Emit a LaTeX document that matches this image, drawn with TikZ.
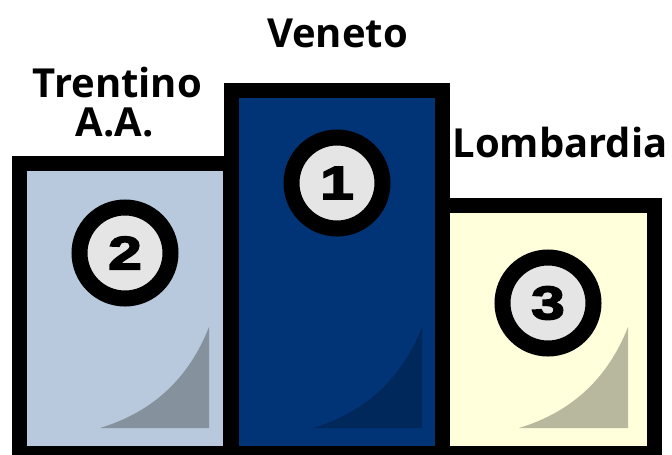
\documentclass[tikz,border=0pt]{standalone}
\usepackage{fontspec}
\setmainfont{Open Sans}
\newfontfamily\digitfont{Liberation Sans Bold}[FakeStretch=1.3, FakeBold=3.5]
\definecolor{silverfill}{HTML}{B8C9DD}
\definecolor{silvershade}{HTML}{85919C}
\definecolor{goldfill}{HTML}{003476}
\definecolor{goldshade}{HTML}{00285A}
\definecolor{bronzefill}{HTML}{FFFFDB}
\definecolor{bronzeshade}{HTML}{B8B89F}
\definecolor{medalface}{HTML}{E5E5E5}
\tikzset{
  frame/.style={fill=black},
  medal/.style={circle, draw=black, line width=12pt, fill=medalface,
    minimum size=68.25pt, inner sep=0pt,
    font=\digitfont\fontsize{35}{35}\selectfont},
  place/.style={font=\bfseries\fontsize{30}{30}\selectfont, inner sep=0pt, anchor=base}
}
\newcommand\podshadow[3]{\fill[#3] (#1,#2) -- ({#1},{#2-101}) .. controls ({#1-20},{#2-50}) and ({#1-56},{#2-16}) .. ({#1-109},{#2}) -- cycle;}
\begin{document}
\begin{tikzpicture}[x=0.75pt,y=-0.75pt]
\useasboundingbox (0,0) rectangle (672,454);
\clip (0,0) rectangle (672,454);
% frames
\fill[frame] (12,156) rectangle (238,470);
\fill[frame] (224,83) rectangle (450,470);
\fill[frame] (435,198) rectangle (662,470);
% fills
\fill[silverfill] (27,171) rectangle (223,446);
\fill[goldfill] (239,98) rectangle (435,446);
\fill[bronzefill] (450,213) rectangle (647,446);
% shadows
\podshadow{209}{428}{silvershade}
\podshadow{422}{428}{goldshade}
\podshadow{628}{428}{bronzeshade}
% medals
\node[medal] (m2) at (125,253) {2};
\node[medal] (m1) at (337,183) {1};
\node[medal] (m3) at (548,303) {3};
% labels
\node[place] (veneto) at (337.5,47) {Veneto};
\node[place] (trentino) at (117.5,97) {Trentino};
\node[place] (aa) at (115,136) {A.A.};
\node[place] (lombardia) at (560,157) {Lombardia};
\end{tikzpicture}
\end{document}
